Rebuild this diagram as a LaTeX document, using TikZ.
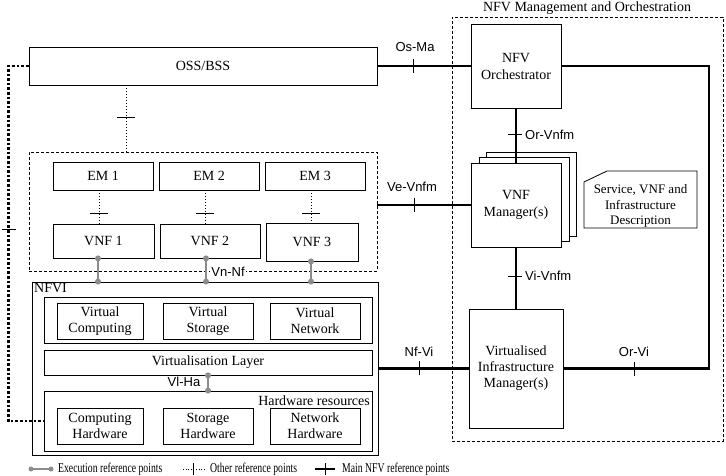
\documentclass[tikz,border=0pt]{standalone}
\usepackage{fontspec}
\setmainfont{Liberation Serif}
\setsansfont{Liberation Sans}
\usetikzlibrary{calc}
\definecolor{execgray}{HTML}{8C8C8C}
\begin{document}
\begin{tikzpicture}[x=1pt,y=-1pt,
  box/.style={draw, line width=0.8pt, fill=white, align=center, inner sep=1pt, font=\fontsize{14}{17}\selectfont},
  dbox/.style={draw, line width=0.7pt, dash pattern=on 3pt off 2pt, inner sep=0pt},
  mainline/.style={line width=2.4pt},
  tickmark/.style={line width=1pt},
  execline/.style={draw=execgray, line width=2pt},
  otherline/.style={dotted, line width=1pt},
  thickdot/.style={line width=2.6pt, dash pattern=on 2.6pt off 2pt},
  lab/.style={font=\sffamily\fontsize{13}{15}\selectfont, inner sep=1pt},
  leg/.style={font=\fontsize{13.5}{15}\selectfont, anchor=west, inner sep=0pt}
]
\useasboundingbox (0,0) rectangle (726,476);

% ---------------- left side ----------------
\node[box, minimum width=348, minimum height=38] (oss) at (203,66) {OSS/BSS};
\node[dbox, minimum width=348, minimum height=119] (vnfbox) at (203,211.5) {};

\node[box, minimum width=100, minimum height=28] (em1) at (103,176) {EM 1};
\node[box, minimum width=100, minimum height=28] (em2) at (209,176) {EM 2};
\node[box, minimum width=100, minimum height=28] (em3) at (315,176) {EM 3};
\node[box, minimum width=101, minimum height=34] (vnf1) at (103.5,241) {VNF 1};
\node[box, minimum width=100, minimum height=34] (vnf2) at (210,241) {VNF 2};
\node[box, minimum width=92, minimum height=38] (vnf3) at (312,242) {VNF 3};

\draw[otherline] (em1.south -| 99,0) -- (vnf1.north -| 99,0);
\draw[otherline] (em2.south -| 205,0) -- (vnf2.north -| 205,0);
\draw[otherline] (em3.south -| 311,0) -- (vnf3.north -| 311,0);
\draw[tickmark] (90,213) -- (108,213);
\draw[tickmark] (196,213) -- (214,213);
\draw[tickmark] (302,213) -- (320,213);

\draw[otherline] (oss.south -| 126,0) -- (vnfbox.north -| 126,0);
\draw[tickmark] (117,118) -- (135,118);

% NFVI
\node[draw, line width=0.8pt, minimum width=346, minimum height=173] (nfvi) at (205,368.5) {};
\node[anchor=north west, inner sep=0pt, font=\fontsize{14}{16}\selectfont] (nfvilab) at (34,283) {NFVI};

\node[draw, line width=0.8pt, minimum width=328, minimum height=46] (virt) at (208,320) {};
\node[box, minimum width=86, minimum height=36] (vc) at (100,321) {Virtual\\[-1pt]Computing};
\node[box, minimum width=90, minimum height=36] (vs) at (208,321) {Virtual\\[-1pt]Storage};
\node[box, minimum width=90, minimum height=36] (vn) at (315,321) {Virtual\\[-1pt]Network};

\node[box, minimum width=328, minimum height=25] (vlayer) at (208,362.5) {Virtualisation Layer};

\node[draw, line width=0.8pt, minimum width=328, minimum height=60] (hw) at (208,421) {};
\node[anchor=east, inner sep=0pt, font=\fontsize{14}{16}\selectfont] (hwlab) at (370,401) {Hardware resources};
\node[box, minimum width=86, minimum height=36] (ch) at (100,426) {Computing\\[-1pt]Hardware};
\node[box, minimum width=90, minimum height=36] (sh) at (208,426) {Storage\\[-1pt]Hardware};
\node[box, minimum width=90, minimum height=36] (nh) at (315,426) {Network\\[-1pt]Hardware};

% execution reference points
\foreach \xx/\a in {98/vnf1, 206/vnf2, 311/vnf3}{
  \draw[execline] (\a.south -| \xx,0) -- (nfvi.north -| \xx,0);
  \fill[execgray] (\a.south -| \xx,0) circle (3pt);
  \fill[execgray] (nfvi.north -| \xx,0) circle (3pt);
}
\node[lab, fill=white] (vnnf) at (228,272) {Vn-Nf};

\draw[execline] (vlayer.south -| 208,0) -- (hw.north -| 208,0);
\fill[execgray] (vlayer.south -| 208,0) circle (3pt);
\fill[execgray] (hw.north -| 208,0) circle (3pt);
\node[lab] (vlha) at (184,382) {Vl-Ha};

% left thick dotted line
\draw[thickdot] (oss.west) -- ++(-20,0) |- (hw.west);
\draw[tickmark] (2,229) -- (16,229);

% ---------------- MANO ----------------
\node[dbox, minimum width=271, minimum height=424] (mano) at (587.5,229) {};
\node[inner sep=0pt, font=\fontsize{14}{16}\selectfont] (manolab) at (587,8) {NFV Management and Orchestration};

\node[box, minimum width=90, minimum height=84] (nfvo) at (516,66) {NFV\\[0pt]Orchestrator};

\node[box, minimum width=90, minimum height=84] (vnfm2) at (531,194) {};
\node[box, minimum width=90, minimum height=84] (vnfm1) at (524,199) {};
\node[box, minimum width=90, minimum height=84] (vnfm) at (516,205) {VNF\\[0pt]Manager(s)};

\node[box, minimum width=94, minimum height=119, font=\fontsize{14}{16}\selectfont] (vim) at (516,368.5) {Virtualised\\Infrastructure\\Manager(s)};

\draw[line width=0.8pt, fill=white] (607,171) -- (697,171) -- (697,228) -- (584,228) -- (584,182) -- cycle;
\node[align=center, inner sep=0pt, font=\fontsize{13}{15.5}\selectfont] (desc) at (640.5,206) {Service, VNF and\\Infrastructure\\Description};

% main reference points
\draw[mainline] (oss.east) -- (nfvo.west);
\draw[tickmark] (413,59) -- (413,73);
\node[lab] (osma) at (415,47) {Os-Ma};

\draw[mainline] (nfvo.east) -- (709,66) -- (709,368.5) -- (vim.east);
\draw[tickmark] (634,362) -- (634,376);
\node[lab] (orvi) at (634,352) {Or-Vi};

\draw[mainline] (nfvo.south) -- (vnfm.north);
\draw[tickmark] (508,135) -- (522,135);
\node[lab, anchor=west] (orvnfm) at (524,135) {Or-Vnfm};

\draw[mainline] (vnfm.west) -- (vnfm.west -| vnfbox.east);
\draw[tickmark] (414,198) -- (414,212);
\node[lab] (vevnfm) at (412,187) {Ve-Vnfm};

\draw[mainline] (vnfm.south) -- (vim.north);
\draw[tickmark] (508,276) -- (522,276);
\node[lab, anchor=west] (vivnfm) at (524,276) {Vi-Vnfm};

\draw[mainline] (vim.west) -- (vim.west -| nfvi.east);
\draw[tickmark] (419,361) -- (419,375);
\node[lab] (nfvilink) at (419,352) {Nf-Vi};

% ---------------- legend ----------------
\coordinate (le1) at (31,469);
\coordinate (le2) at (51,469);
\draw[execline] (le1) -- (le2);
\fill[execgray] (le1) circle (2.5pt);
\fill[execgray] (le2) circle (2.5pt);
\node[leg] (legexec) at (58,469) {\scalebox{0.72}[1]{Execution reference points}};

\coordinate (lo1) at (183,469);
\coordinate (lo2) at (205,469);
\draw[dotted, line width=0.6pt] (lo1) -- (lo2);
\draw[line width=0.7pt] (193,463) -- (193,475);
\node[leg] (legother) at (210,469) {\scalebox{0.72}[1]{Other reference points}};

\coordinate (lm1) at (315,469);
\coordinate (lm2) at (335,469);
\draw[mainline] (lm1) -- (lm2);
\draw[line width=0.8pt] (325,463) -- (325,475);
\node[leg] (legmain) at (342,469) {\scalebox{0.72}[1]{Main NFV reference points}};
\end{tikzpicture}
\end{document}
